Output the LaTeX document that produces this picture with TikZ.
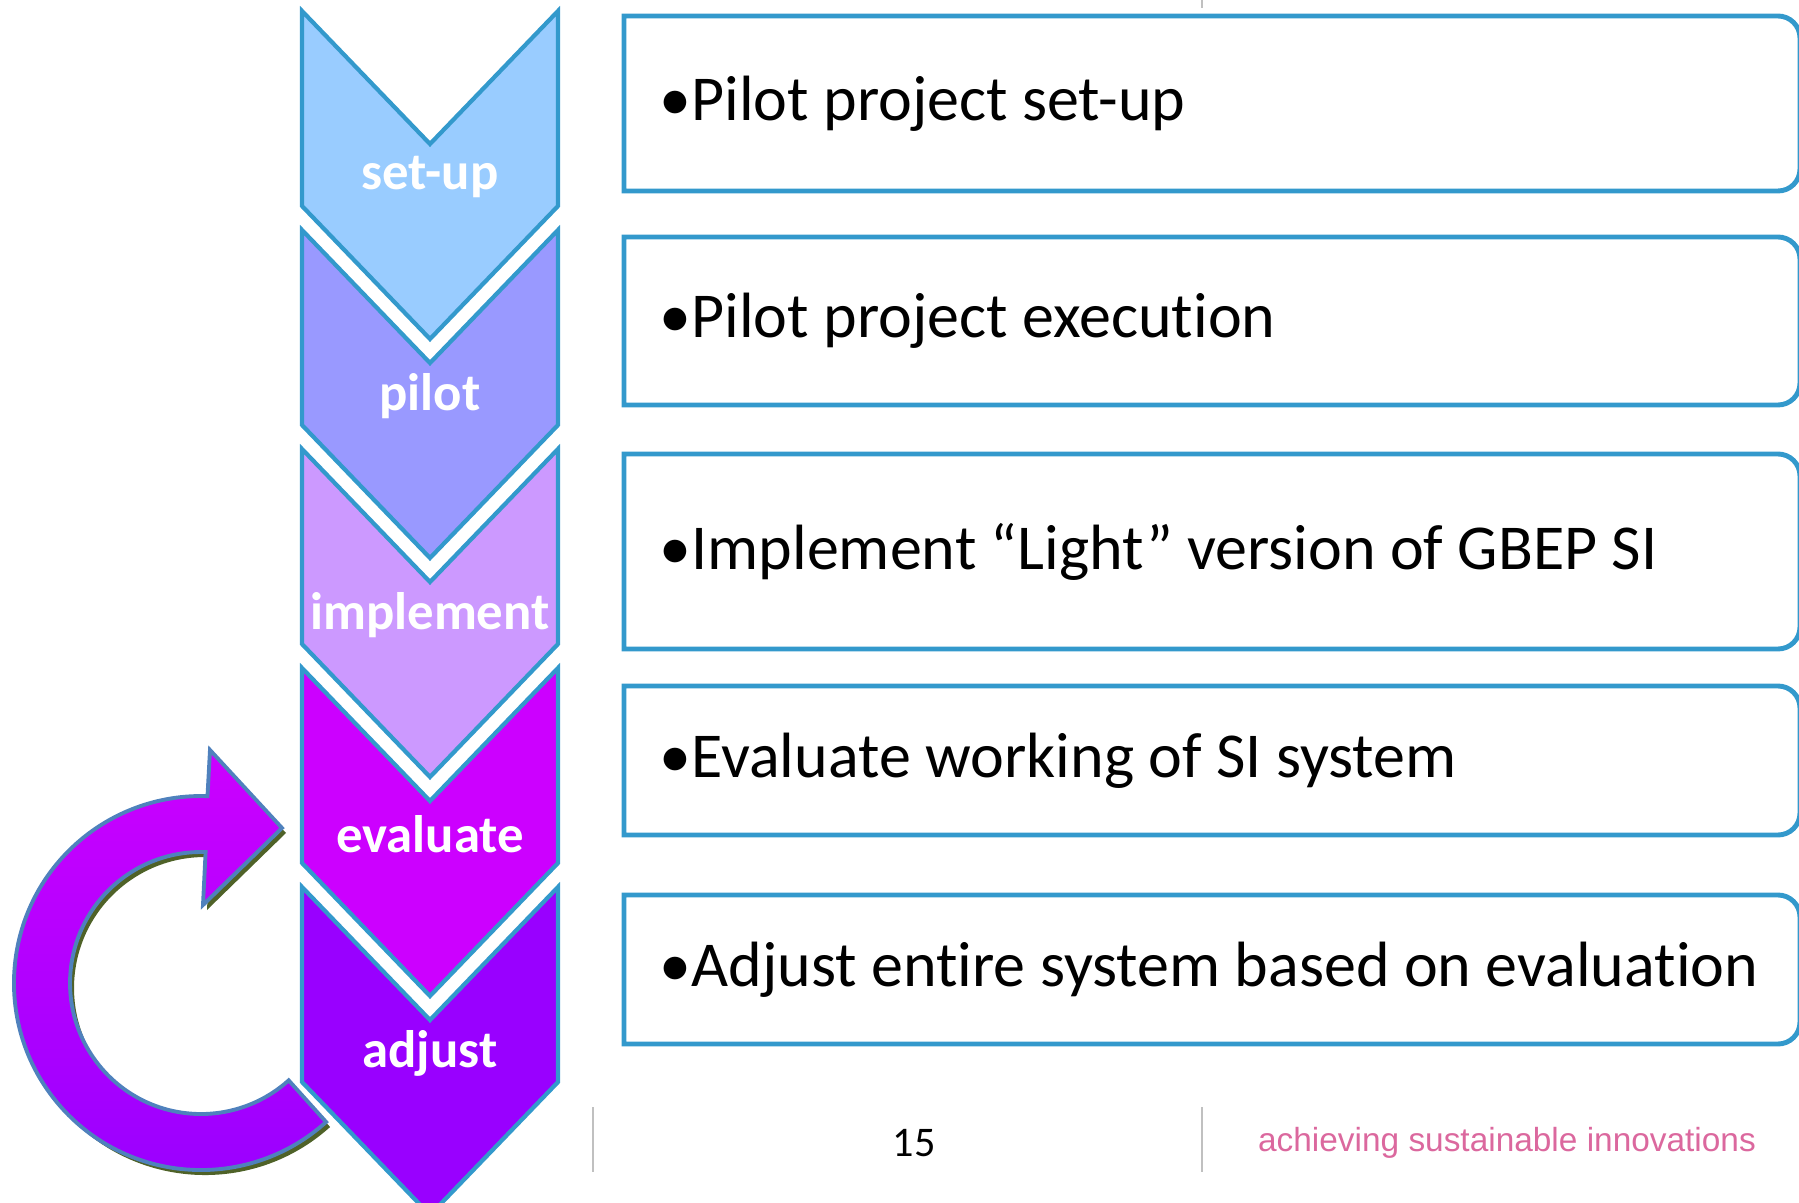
\documentclass[tikz,border=0pt]{standalone}
\usepackage{fontspec}
\setmainfont{Carlito}[Ligatures=CommonOff]
\newfontfamily\arialfont{Liberation Sans}
\definecolor{setupc}{HTML}{99CCFF}
\definecolor{pilotc}{HTML}{9999FF}
\definecolor{implc}{HTML}{CC99FF}
\definecolor{evalc}{HTML}{CC00FF}
\definecolor{adjc}{HTML}{9900FF}
\definecolor{rim}{HTML}{3399CC}
\definecolor{loopline}{HTML}{4F81BD}
\definecolor{loopshade}{HTML}{4F6228}
\definecolor{footgray}{HTML}{C0C0C0}
\definecolor{slogan}{RGB}{219,104,158}
\def\looppath{(210,452) -- (282,374) -- (203,297) -- (205.6,349.9)
  arc[start angle=88,end angle=312,radius=131] -- (326.1,80.0)
  arc[start angle=312,end angle=88,radius=187] -- cycle}

\begin{document}
\begin{tikzpicture}[x=0.01cm,y=0.01cm,
    chev/.style={draw=rim,line width=1.2pt},
    steplabel/.style={text=white,font=\fontsize{15}{18}\selectfont\bfseries},
    boxline/.style={draw=rim,line width=1.4pt},
    boxtext/.style={anchor=west,inner sep=0pt,font=\fontsize{18.2}{22}\selectfont}]
  \useasboundingbox (0,0) rectangle (1799,1202);
  \clip (0,0) rectangle (1799,1202);
  % chevrons
  \foreach \k/\col/\lab in {0/setupc/set-up,1/pilotc/pilot,2/implc/implement,3/evalc/evaluate,4/adjc/adjust}{
    \pgfmathsetmacro{\T}{1191-219*\k}
    \draw[chev,fill=\col](302,\T)--(430,\T-133)--(558,\T)--(558,\T-195)--(430,\T-328)--(302,\T-195)--cycle;
    \node[steplabel](s\k)at(430,\T-166){\lab};
  }
  % boxes
  \foreach \i/\ya/\yb/\txt in {1/16/191/{•Pilot project set-up},2/237/405/{•Pilot project execution},
      3/454/649/{•Implement “Light” version of GBEP SI},4/686/835/{•Evaluate working of SI system},
      5/895/1044/{•Adjust entire system based on evaluation}}{
    \draw[boxline](624,1202-\ya)--(1778,1202-\ya) arc[start angle=90,end angle=0,radius=22]
      --(1800,1224-\yb) arc[start angle=0,end angle=-90,radius=22]--(624,1202-\yb)--cycle;
    \node[boxtext](t\i)at(659,1202-\ya/2-\yb/2){\txt};
  }
  % loop arrow
  \coordinate(ctr)at(201,219);
  \fill[loopshade,shift={(4,-5)}]\looppath;
  \draw[loopline,line width=1.1pt,top color=evalc,bottom color=adjc]\looppath;
  % footer
  \draw[footgray,line width=0.6pt](593,95)--(593,30) (1202,95)--(1202,30) (1202,1202)--(1202,1194);
  \node[font=\fontsize{12}{14}\selectfont](pg)at(914,59){15};
  \node[text=slogan,font=\arialfont\fontsize{9.5}{11}\selectfont](sl)at(1507,59){achieving sustainable innovations};
\end{tikzpicture}
\end{document}
